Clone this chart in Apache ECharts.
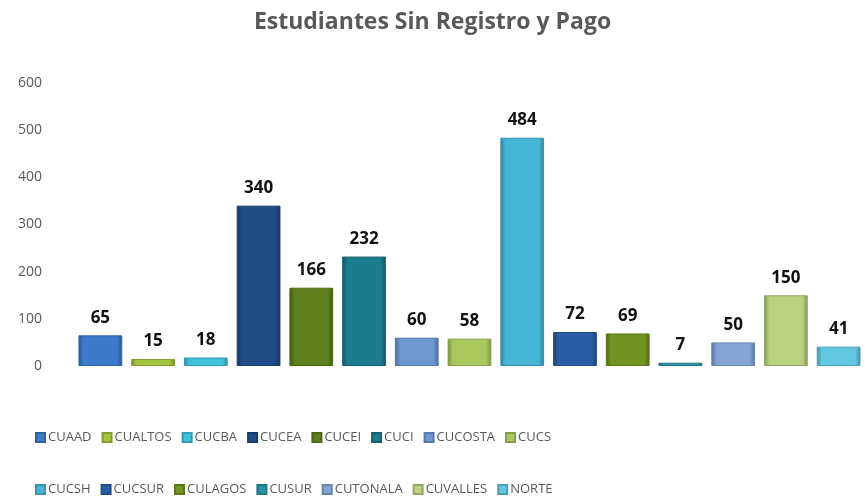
<!DOCTYPE html>
<html>
<head>
<meta charset="utf-8">
<script src="https://cdn.jsdelivr.net/npm/echarts@6/dist/echarts.min.js"></script>
<style>
  html, body { margin: 0; padding: 0; background: #fff; }
  #main { width: 865px; height: 497px; }
</style>
</head>
<body>
<div id="main"></div>
<script>
// centros universitarios y estudiantes sin registro y pago
var categorias = ['CUAAD', 'CUALTOS', 'CUCBA', 'CUCEA', 'CUCEI', 'CUCI', 'CUCOSTA', 'CUCS',
                  'CUCSH', 'CUCSUR', 'CULAGOS', 'CUSUR', 'CUTONALA', 'CUVALLES', 'NORTE'];
var valores = [65, 15, 18, 340, 166, 232, 60, 58, 484, 72, 69, 7, 50, 150, 41];
var yTicks = [0, 100, 200, 300, 400, 500, 600];

// colores de cada barra
var colores = ['#3c7bcb', '#a4c43c', '#40c2de', '#1f4c86', '#5d7f1c', '#1d7b8f', '#6e97d2', '#a9c85e',
               '#46b6d8', '#2a5ea6', '#6f9420', '#2893a8', '#83a5d6', '#b9d27e', '#62c8e2'];

var myChart = echarts.init(document.getElementById('main'));

function sombra(hex, f) {
    var n = parseInt(hex.slice(1), 16);
    var r = Math.round(((n >> 16) & 255) * f);
    var g = Math.round(((n >> 8) & 255) * f);
    var b = Math.round((n & 255) * f);
    return 'rgb(' + Math.min(r, 255) + ',' + Math.min(g, 255) + ',' + Math.min(b, 255) + ')';
}

// relleno con efecto biselado
function relleno(c) {
    return new echarts.graphic.LinearGradient(0, 0, 1, 0, [
        {offset: 0, color: sombra(c, 0.7)},
        {offset: 0.12, color: c},
        {offset: 0.88, color: c},
        {offset: 1, color: sombra(c, 0.7)}
    ]);
}

var series = categorias.map(function (nombre, i) {
    var data = categorias.map(function (_, j) { return j === i ? valores[i] : null; });
    return {
        name: nombre,
        type: 'bar',
        barWidth: '83%',
        barGap: '-100%',
        data: data,
        itemStyle: {
            color: relleno(colores[i]),
            borderColor: sombra(colores[i], 0.8),
            borderWidth: 1
        },
        label: {
            show: true,
            position: 'top',
            distance: 9,
            fontFamily: 'Open Sans',
            fontWeight: 'bold',
            fontSize: 17,
            color: '#111'
        }
    };
});

var legendaBase = {
    orient: 'horizontal',
    left: 30,
    icon: 'rect',
    itemWidth: 9,
    itemHeight: 9,
    itemGap: 10,
    selectedMode: false,
    textStyle: {
        fontFamily: 'Open Sans',
        fontSize: 13,
        color: '#595959',
        width: 81,
        padding: [0, 0, 0, -2]
    }
};

var option = {
    animation: false,
    title: {
        text: 'Estudiantes Sin Registro y Pago',
        left: 'center',
        top: 6,
        textStyle: {
            fontFamily: 'Open Sans',
            fontWeight: 'bold',
            fontSize: 23,
            color: '#595959'
        }
    },
    legend: [
        Object.assign({}, legendaBase, {top: 426, data: categorias.slice(0, 8)}),
        Object.assign({}, legendaBase, {top: 478, data: categorias.slice(8)})
    ],
    grid: {left: 74, right: -10, top: 83, bottom: 131},
    xAxis: {
        type: 'category',
        data: categorias,
        axisLine: {show: false},
        axisTick: {show: false},
        axisLabel: {show: false}
    },
    yAxis: {
        type: 'value',
        min: yTicks[0],
        max: yTicks[yTicks.length - 1],
        interval: 100,
        splitLine: {show: false},
        axisLine: {show: false},
        axisTick: {show: false},
        axisLabel: {
            margin: 32,
            fontFamily: 'Open Sans',
            fontSize: 14,
            color: '#595959'
        }
    },
    series: series
};

myChart.setOption(option, true);
</script>
</body>
</html>
